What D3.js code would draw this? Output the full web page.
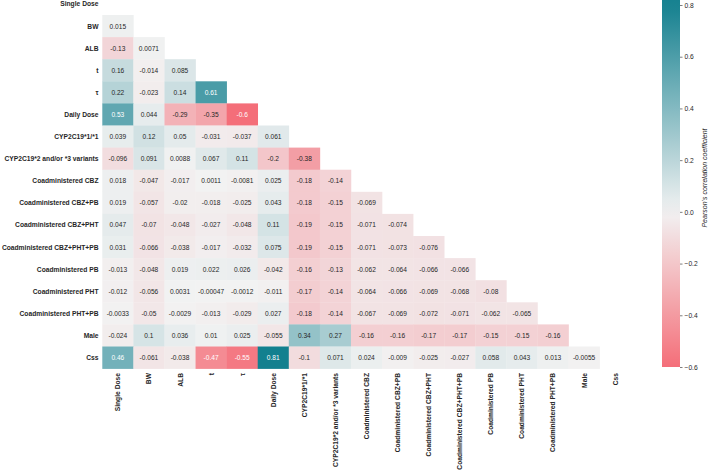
<!DOCTYPE html>
<html>
<head>
<meta charset="utf-8">
<script src="https://cdn.jsdelivr.net/npm/d3@7"></script>
<style>
  body { margin: 0; background: #fff; }
  text { font-family: "Liberation Sans", Arial, sans-serif; }
</style>
</head>
<body>
<div id="chart"></div>
<script>
// variables, same order for rows and columns
const labels = ["Single Dose", "BW", "ALB", "t", "\u03c4", "Daily Dose", "CYP2C19*1/*1",
  "CYP2C19*2 and/or *3 variants", "Coadministered CBZ", "Coadministered CBZ+PB",
  "Coadministered CBZ+PHT", "Coadministered CBZ+PHT+PB", "Coadministered PB",
  "Coadministered PHT", "Coadministered PHT+PB", "Male", "Css"];

// lower triangle, row i holds columns 0..i-1
const corrRows = [
  [],
  [0.015],
  [-0.13, 0.0071],
  [0.16, -0.014, 0.085],
  [0.22, -0.023, 0.14, 0.61],
  [0.53, 0.044, -0.29, -0.35, -0.6],
  [0.039, 0.12, 0.05, -0.031, -0.037, 0.061],
  [-0.096, 0.091, 0.0088, 0.067, 0.11, -0.2, -0.38],
  [0.018, -0.047, -0.017, 0.0011, -0.0081, 0.025, -0.18, -0.14],
  [0.019, -0.057, -0.02, -0.018, -0.025, 0.043, -0.18, -0.15, -0.069],
  [0.047, -0.07, -0.048, -0.027, -0.048, 0.11, -0.19, -0.15, -0.071, -0.074],
  [0.031, -0.066, -0.038, -0.017, -0.032, 0.075, -0.19, -0.15, -0.071, -0.073, -0.076],
  [-0.013, -0.048, 0.019, 0.022, 0.026, -0.042, -0.16, -0.13, -0.062, -0.064, -0.066, -0.066],
  [-0.012, -0.056, 0.0031, -0.00047, -0.0012, -0.011, -0.17, -0.14, -0.064, -0.066, -0.069, -0.068, -0.08],
  [-0.0033, -0.05, -0.0029, -0.013, -0.029, 0.027, -0.18, -0.14, -0.067, -0.069, -0.072, -0.071, -0.062, -0.065],
  [-0.024, 0.1, 0.036, 0.01, 0.025, -0.055, 0.34, 0.27, -0.16, -0.16, -0.17, -0.17, -0.15, -0.15, -0.16],
  [0.46, -0.061, -0.038, -0.47, -0.55, 0.81, -0.1, 0.071, 0.024, -0.009, -0.025, -0.027, 0.058, 0.043, 0.013, -0.0055]
];

const cbarTicks = [-0.6, -0.4, -0.2, 0.0, 0.2, 0.4, 0.6, 0.8];

const W = 708, H = 471;
const svg = d3.select("#chart").append("svg")
  .attr("width", W).attr("height", H);

const x = d3.scaleBand().domain(labels).range([102.3, 630.7]);
const y = d3.scaleBand().domain(labels).range([-7.1, 368.6]);

// centred diverging map, range +-0.81
const color = d3.scaleLinear()
  .domain([-0.81, 0, 0.81])
  .range(["#f5404e", "#f2f2f2", "#13808f"])
  .clamp(true);

function textColor(c) {
  const rgb = d3.rgb(c);
  const lin = v => { v /= 255; return v <= 0.03928 ? v / 12.92 : Math.pow((v + 0.055) / 1.055, 2.4); };
  const lum = 0.2126 * lin(rgb.r) + 0.7152 * lin(rgb.g) + 0.0722 * lin(rgb.b);
  return lum > 0.408 ? "#262626" : "#ffffff";
}

const cells = [];
corrRows.forEach((row, i) => {
  row.forEach((v, j) => cells.push({ r: labels[i], c: labels[j], v: v }));
});

const g = svg.append("g");
g.selectAll("rect.cell")
  .data(cells)
  .enter()
  .append("rect")
  .attr("class", "cell")
  .attr("x", d => x(d.c))
  .attr("y", d => y(d.r))
  .attr("width", x.bandwidth() + 0.3)
  .attr("height", y.bandwidth() + 0.3)
  .attr("fill", d => color(d.v));

g.selectAll("text.val")
  .data(cells)
  .enter()
  .append("text")
  .attr("class", "val")
  .attr("x", d => x(d.c) + x.bandwidth() / 2)
  .attr("y", d => y(d.r) + y.bandwidth() / 2)
  .attr("text-anchor", "middle")
  .attr("dominant-baseline", "central")
  .attr("font-size", 6.6)
  .attr("fill", d => textColor(color(d.v)))
  .text(d => String(d.v));

// row labels
svg.selectAll("text.ylab")
  .data(labels)
  .enter()
  .append("text")
  .attr("class", "ylab")
  .attr("x", 98.5)
  .attr("y", d => y(d) + y.bandwidth() / 2)
  .attr("text-anchor", "end")
  .attr("dominant-baseline", "central")
  .attr("font-size", 6.7)
  .attr("font-weight", "bold")
  .attr("fill", "#262626")
  .text(d => d);

// column labels, rotated
svg.selectAll("text.xlab")
  .data(labels)
  .enter()
  .append("text")
  .attr("class", "xlab")
  .attr("transform", d => "translate(" + (x(d) + x.bandwidth() / 2) + ",373) rotate(-90)")
  .attr("text-anchor", "end")
  .attr("dominant-baseline", "central")
  .attr("font-size", 6.7)
  .attr("font-weight", "bold")
  .attr("fill", "#262626")
  .text(d => d);

// colour bar
const cy = d3.scaleLinear().domain([-0.6, 0.8]).range([367, 5]);
const cbX = 662, cbW = 18;
const topVal = cy.invert(-7);
const defs = svg.append("defs");
const grad = defs.append("linearGradient")
  .attr("id", "cbgrad")
  .attr("x1", 0).attr("y1", 1).attr("x2", 0).attr("y2", 0);
d3.range(0, 1.0001, 0.05).forEach(t => {
  const v = -0.6 + t * (topVal + 0.6);
  grad.append("stop").attr("offset", t).attr("stop-color", color(v));
});
svg.append("rect")
  .attr("x", cbX).attr("y", cy(topVal))
  .attr("width", cbW).attr("height", cy(-0.6) - cy(topVal))
  .attr("fill", "url(#cbgrad)");

const cbAxis = d3.axisRight(cy)
  .tickValues(cbarTicks)
  .tickSize(2.5)
  .tickFormat(d => d3.format(".1f")(d).replace("-", "\u2212"));
const ax = svg.append("g")
  .attr("transform", "translate(" + (cbX + cbW) + ",0)")
  .call(cbAxis);
ax.select(".domain").remove();
ax.selectAll("line").attr("stroke", "#262626").attr("stroke-width", 0.6);
ax.selectAll("text")
  .attr("font-size", 6.7)
  .attr("fill", "#262626")
  .attr("x", 4.5)
  .attr("font-family", "'Liberation Sans', Arial, sans-serif");

svg.append("text")
  .attr("transform", "translate(704.5,178) rotate(-90)")
  .attr("text-anchor", "middle")
  .attr("dominant-baseline", "central")
  .attr("font-size", 7)
  .attr("font-style", "italic")
  .attr("fill", "#262626")
  .text("Pearson\u2019s correlation coefficient");
</script>
</body>
</html>
